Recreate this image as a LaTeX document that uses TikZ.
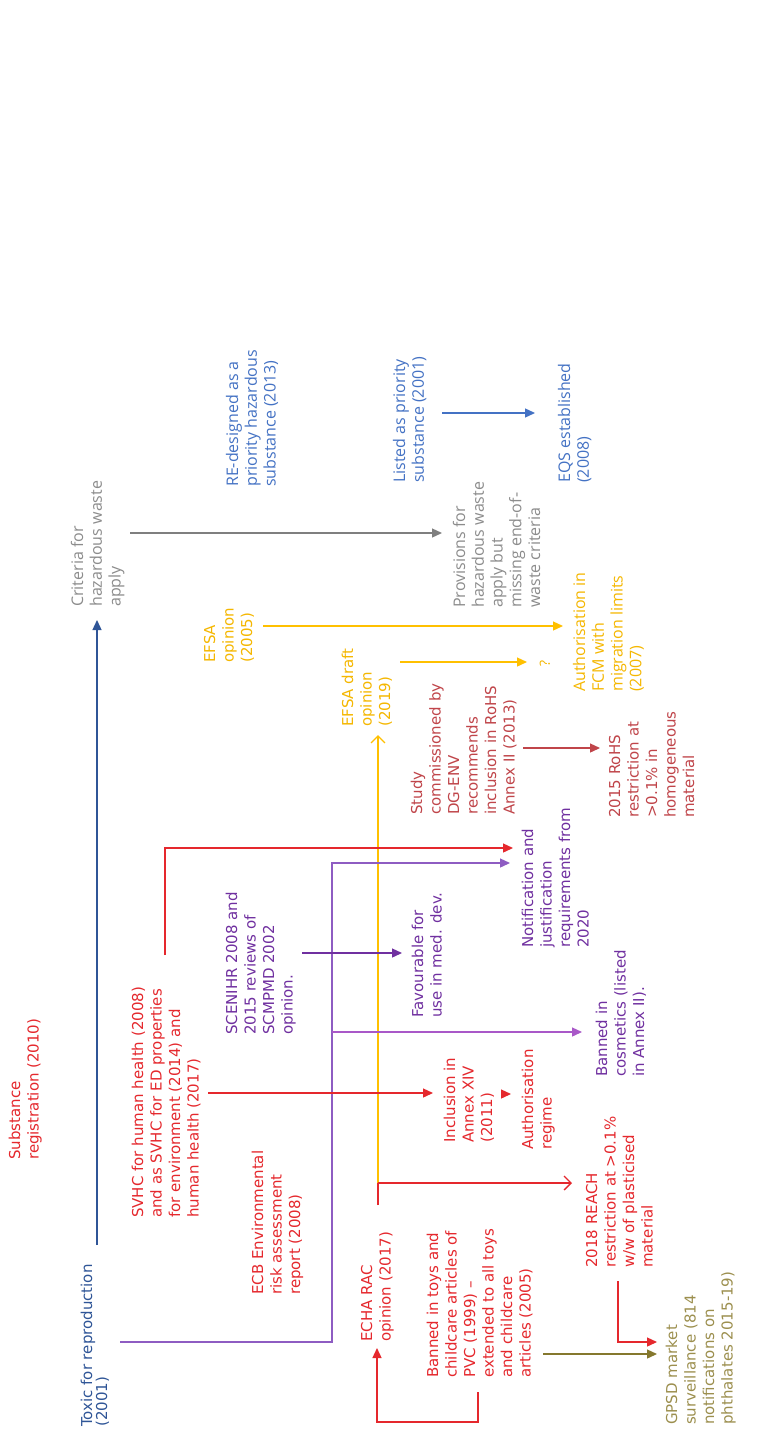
\documentclass[tikz,border=0pt]{standalone}
\usepackage{fontspec}
\setmainfont{DejaVu Sans}
\newfontfamily\osfont{Open Sans}
\usetikzlibrary{arrows.meta}
\definecolor{cred}{HTML}{E5282D}
\definecolor{cdred}{HTML}{C0454A}
\definecolor{cpur}{HTML}{7030A0}
\definecolor{cpurl}{HTML}{8E5CC2}
\definecolor{cmag}{HTML}{A958C8}
\definecolor{cblue}{HTML}{2F5597}
\definecolor{cbluel}{HTML}{4472C4}
\definecolor{cgray}{HTML}{8C8C8C}
\definecolor{cgrayl}{HTML}{7F7F7F}
\definecolor{cyel}{HTML}{FFC000}
\definecolor{cyelt}{HTML}{F5B700}
\definecolor{coliv}{HTML}{9C8F4E}
\definecolor{colivl}{HTML}{85782E}
\newcommand\mystr{\rule{0pt}{0.8em}}
\tikzset{
  rt/.style={rotate=90, anchor=north west, inner sep=0pt, align=left, font=\fontsize{15}{18.5}\selectfont},
  ro/.style={rotate=90, anchor=north west, inner sep=0pt, align=left, font=\osfont\fontsize{16}{18.8}\selectfont},
  ln/.style={line width=1.3pt},
  fa/.style={ln, -{Triangle[length=10pt,width=9pt]}},
  oa/.style={ln, -{Straight Barb[length=7pt,width=14pt]}},
}
\begin{document}
\begin{tikzpicture}[x=1pt,y=-1pt]
\fill[white] (0,0) rectangle (765,1429);
\useasboundingbox (0,0) rectangle (765,1429);

% ---- text nodes ----
\node[rt, text=cred] (subst) at (8,1160) {\mystr Substance\\registration (2010)};
\node[rt, text=cblue, font=\fontsize{15}{15}\selectfont] (toxic) at (80,1427) {\mystr Toxic for reproduction\\(2001)};
\node[rt, text=cred] (svhc) at (131,1218) {\mystr SVHC for human health (2008)\\and as SVHC for ED properties\\for environment (2014) and\\human health (2017)};
\node[rt, text=cred] (ecb) at (251,1295) {\mystr ECB Environmental\\risk assessment\\report (2008)};
\node[rt, text=cpur] (scen) at (225,1035) {\mystr SCENIHR 2008 and\\2015 reviews of\\SCMPMD 2002\\opinion.};
\node[rt, text=cred] (echa) at (360,1342) {\mystr ECHA RAC\\opinion (2017)};
\node[rt, text=cred] (toys) at (426,1378) {\mystr Banned in toys and\\childcare articles of\\PVC (1999) –\\extended to all toys\\and childcare\\articles (2005)};
\node[rt, text=cred] (incl) at (443,1143) {\mystr Inclusion in\\Annex XIV\\(2011)};
\node[rt, text=cred] (authreg) at (521,1150) {\mystr Authorisation\\regime};
\node[rt, text=cred] (reach) at (585,1268) {\mystr 2018 REACH\\restriction at >0.1\%\\w/w of plasticised\\material};
\node[rt, text=cpur] (cosm) at (595,1077) {\mystr Banned in\\cosmetics (listed\\in Annex II).};
\node[rt, text=coliv] (gpsd) at (665,1425) {\mystr GPSD market\\surveillance (814\\notifications on\\phthalates 2015-19)};
\node[rt, text=cpur] (fav) at (411,1018) {\mystr Favourable for\\use in med. dev.};
\node[rt, text=cpur] (notif) at (521,948) {\mystr Notification and\\justification\\requirements from\\2020};
\node[rt, text=cdred] (study) at (410,815) {\mystr Study\\commissioned by\\DG-ENV\\recommends\\inclusion in RoHS\\Annex II (2013)};
\node[rt, text=cdred] (rohs) at (608,818) {\mystr 2015 RoHS\\restriction at\\>0.1\% in\\homogeneous\\material};
\node[rt, text=cyelt] (efsa05) at (203,663) {\mystr EFSA\\opinion\\(2005)};
\node[rt, text=cyelt] (efsa19) at (341,727) {\mystr EFSA draft\\opinion\\(2019)};
\node[ro, text=cgray] (crit) at (70,607) {\mystr Criteria for\\hazardous waste\\apply};
\node[ro, text=cbluel] (redes) at (225,487) {\mystr RE-designed as a\\priority hazardous\\substance (2013)};
\node[ro, text=cbluel] (listed) at (392,483) {\mystr Listed as priority\\substance (2001)};
\node[ro, text=cbluel] (eqs) at (557,483) {\mystr EQS established\\(2008)};
\node[ro, text=cgray] (prov) at (452,608) {\mystr Provisions for\\hazardous waste\\apply but\\missing end-of-\\waste criteria};
\node[ro, text=cyelt] (fcm) at (572,692) {\mystr Authorisation in\\FCM with\\migration limits\\(2007)};
\node[rotate=90, inner sep=0pt, text=cyelt, font=\osfont\fontsize{14}{14}\selectfont] (q) at (545,663) {?};

% ---- connector coordinates ----
\coordinate (b1) at (97,1245);  \coordinate (b2) at (97,620);
\coordinate (p0) at (120,1342); \coordinate (p1) at (332,1342);
\coordinate (p2) at (332,863);  \coordinate (p3) at (510,863);
\coordinate (pc0) at (332,1032); \coordinate (pc1) at (582,1032);
\coordinate (s0) at (302,953);  \coordinate (s1) at (402,953);
\coordinate (r0) at (208,1093); \coordinate (r1) at (433,1093);
\coordinate (ra0) at (501,1094); \coordinate (ra1) at (511,1094);
\coordinate (t0) at (165,955);  \coordinate (t1) at (165,848); \coordinate (t2) at (513,848);
\coordinate (y0) at (378,1183); \coordinate (y1) at (378,735);
\coordinate (e0) at (378,1205); \coordinate (e1) at (572,1183);
\coordinate (l0) at (478,1392); \coordinate (l1) at (478,1422);
\coordinate (l2) at (377,1422); \coordinate (l3) at (377,1348);
\coordinate (o0) at (543,1354); \coordinate (o1) at (657,1354);
\coordinate (g0) at (618,1281); \coordinate (g1) at (618,1342); \coordinate (g2) at (657,1342);
\coordinate (f0) at (263,626);  \coordinate (f1) at (563,626);
\coordinate (d0) at (400,662);  \coordinate (d1) at (527,662);
\coordinate (w0) at (130,533);  \coordinate (w1) at (442,533);
\coordinate (q0) at (442,413);  \coordinate (q1) at (535,413);
\coordinate (h0) at (523,748);  \coordinate (h1) at (600,748);

% ---- connectors ----
\draw[fa, cblue] (b1) -- (b2);
\draw[fa, cgrayl] (w0) -- (w1);
\draw[fa, cyel] (f0) -- (f1);
\draw[fa, cyel] (d0) -- (d1);
\draw[fa, cbluel] (q0) -- (q1);
\draw[fa, cdred] (h0) -- (h1);
\draw[oa, cyel] (y0) -- (y1);
\draw[fa, cpurl] (p0) -- (p1) -- (p2) -- (p3);
\draw[fa, cmag] (pc0) -- (pc1);
\draw[fa, cpur] (s0) -- (s1);
\draw[fa, cred] (t0) -- (t1) -- (t2);
\draw[fa, cred] (r0) -- (r1);
\draw[fa, cred] (ra0) -- (ra1);
\draw[ln, cred] (e0) -- (y0);
\draw[oa, cred] (y0) -- (e1);
\draw[fa, cred] (l0) -- (l1) -- (l2) -- (l3);
\draw[fa, colivl] (o0) -- (o1);
\draw[fa, cred] (g0) -- (g1) -- (g2);
\end{tikzpicture}
\end{document}
